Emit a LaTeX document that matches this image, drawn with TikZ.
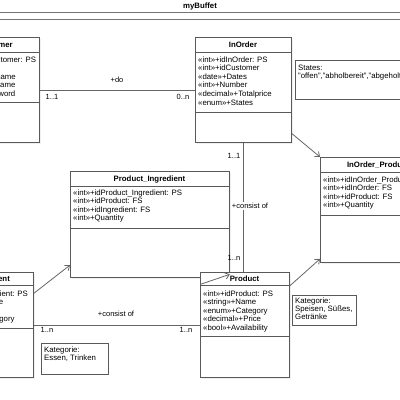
\documentclass[tikz,border=0pt]{standalone}
\usepackage{fontspec}
\setmainfont{Liberation Sans}
\usetikzlibrary{arrows.meta,shadows}
\newcommand{\boxcol}{black!65}
\newcommand{\linecol}{black!60}

\tikzset{
  classbox/.style={draw=\boxcol, fill=white, line width=0.8pt, anchor=north west, inner sep=0pt,
    drop shadow={shadow xshift=1.5pt, shadow yshift=-1.5pt, opacity=0.12}},
  notebox/.style={draw=\boxcol, fill=white, line width=0.8pt, anchor=north west, inner sep=0pt},
  ctitle/.style={anchor=base, inner sep=0pt, font=\bfseries\fontsize{7.8}{9}\selectfont},
  attr/.style={anchor=north west, align=left, inner sep=0pt, font=\fontsize{7.8}{8.6}\selectfont},
  notetext/.style={anchor=north west, align=left, inner sep=0pt, font=\fontsize{7.8}{8}\selectfont},
  div/.style={draw=\boxcol, line width=0.8pt},
  conn/.style={draw=\linecol, line width=0.8pt},
  arr/.style={conn, -{Straight Barb[length=4pt,width=6.5pt]}},
  lbl/.style={inner sep=1pt, font=\fontsize{7.5}{8}\selectfont},
  frameline/.style={draw=black!55, line width=0.9pt}
}

\begin{document}
\begin{tikzpicture}[x=1pt, y=-1pt]

    \clip (0,0) rectangle (400,400);
    \fill[white] (0,0) rectangle (400,400);

    % rahmen
    \node[font=\bfseries\fontsize{7.8}{9}\selectfont] (buffet) at (200,6) {myBuffet};
    \draw[frameline] (0,12.5) -- (400,12.5);
    \draw[frameline] (0,19) -- (400,19);

    % Customer
    \node[classbox, minimum width=83pt, minimum height=105pt] (customer) at (-44,37) {};
    \node[ctitle] (customer-title) at (-5.5,47.3) {Customer};
    \draw[div] (customer.west |- 0,52) -- (customer.east |- 0,52);
    \node[attr] (customer-attr) at (-41,56.3) {«int»+idCustomer: PS\\«str»+Email\\«str»+Firstname\\«str»+Lastname\\«str»+Password};
    \draw[div] (customer.west |- 0,102) -- (customer.east |- 0,102);

    % InOrder
    \node[classbox, minimum width=96pt, minimum height=105pt] (inorder) at (195,37) {};
    \node[ctitle] (inorder-title) at (243,47.3) {InOrder};
    \draw[div] (inorder.west |- 0,52) -- (inorder.east |- 0,52);
    \node[attr] (inorder-attr) at (198,56.3) {«int»+idInOrder: PS\\«int»+idCustomer\\«date»+Dates\\«int»+Number\\«decimal»+Totalprice\\«enum»+States};
    \draw[div] (inorder.west |- 0,112) -- (inorder.east |- 0,112);

    \node[notebox, minimum width=145pt, minimum height=39pt] (states) at (295,60) {};
    \node[notetext] (states-text) at (298,64.5) {States:\\"offen","abholbereit","abgeholt"};

    % Product_Ingredient
    \node[classbox, minimum width=159pt, minimum height=106pt] (pi) at (70,171) {};
    \node[ctitle] (pi-title) at (149.5,181.5) {Product\_Ingredient};
    \draw[div] (pi.west |- 0,186) -- (pi.east |- 0,186);
    \node[attr] (pi-attr) at (73,189.3) {«int»+idProduct\_Ingredient: PS\\«int»+idProduct: FS\\«int»+idIngredient: FS\\«int»+Quantity};
    \draw[div] (pi.west |- 0,228) -- (pi.east |- 0,228);

    % InOrder_Product
    \node[classbox, minimum width=116pt, minimum height=105pt] (iop) at (320,157) {};
    \node[ctitle] (iop-title) at (378,167.5) {InOrder\_Product};
    \draw[div] (iop.west |- 0,172) -- (iop.east |- 0,172);
    \node[attr] (iop-attr) at (323,176.3) {«int»+idInOrder\_Product: PS\\«int»+idInOrder: FS\\«int»+idProduct: FS\\«int»+Quantity};
    \draw[div] (iop.west |- 0,215) -- (iop.east |- 0,215);

    % Ingredient
    \node[classbox, minimum width=86pt, minimum height=105pt] (ingredient) at (-53,272) {};
    \node[ctitle] (ingredient-title) at (-9,281.5) {Ingredient};
    \draw[div] (ingredient.west |- 0,285) -- (ingredient.east |- 0,285);
    \node[attr] (ingredient-attr) at (-50,290.3) {«int»+idIngredient: PS\\«string»+Name\\«string»+Unit\\«enum»+Category};
    \draw[div] (ingredient.west |- 0,328) -- (ingredient.east |- 0,328);

    \node[notebox, minimum width=67pt, minimum height=31pt] (cat-food) at (41,343) {};
    \node[notetext] (cat-food-text) at (44,346.2) {Kategorie:\\Essen, Trinken};

    % Product
    \node[classbox, minimum width=89pt, minimum height=105pt] (product) at (200,272) {};
    \node[ctitle] (product-title) at (244.5,281.5) {Product};
    \draw[div] (product.west |- 0,285) -- (product.east |- 0,285);
    \node[attr] (product-attr) at (203,290.3) {«int»+idProduct: PS\\«string»+Name\\«enum»+Category\\«decimal»+Price\\«bool»+Availability};
    \draw[div] (product.west |- 0,336) -- (product.east |- 0,336);

    \node[notebox, minimum width=64pt, minimum height=30pt] (cat-product) at (292,295) {};
    \node[notetext] (cat-product-text) at (295,297.2) {Kategorie:\\Speisen, Süßes,\\Getränke};

    % beziehungen
    \draw[conn] (customer) -- (inorder);
    \node[lbl] (do) at (117,80) {+do};
    \node[lbl] (do-from) at (52,97) {1..1};
    \node[lbl] (do-to) at (183,97) {0..n};

    \draw[conn] (inorder.south) -- (inorder.south |- product.north);
    \node[lbl] (order-from) at (234,156) {1..1};
    \node[lbl, fill=white] (order-consist) at (250,206) {+consist of};
    \node[lbl] (order-to) at (234,258) {1..n};

    \draw[conn] (ingredient) -- (product);
    \node[lbl] (ing-consist) at (116,314) {+consist of};
    \node[lbl] (ing-from) at (47,330) {1..n};
    \node[lbl] (ing-to) at (186,330) {1..n};

    \draw[arr] (ingredient.36) -- (pi.207);
    \draw[arr] (product.138) -- (pi.328);
    \draw[arr] (product.41) -- (iop.220);
    \draw[arr] (inorder.318) -- (iop.north west);

\end{tikzpicture}
\end{document}
